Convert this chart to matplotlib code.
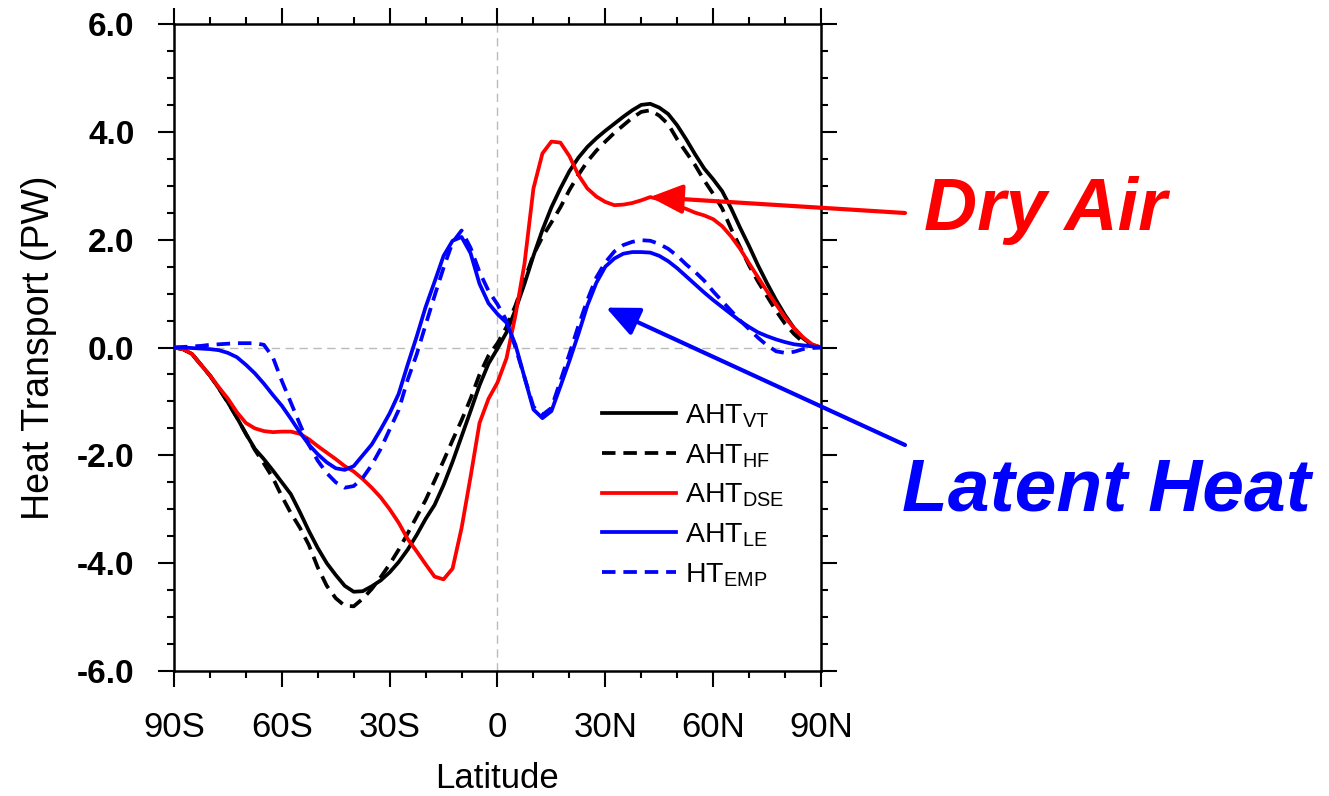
import numpy as np
import matplotlib
matplotlib.use("Agg")
import matplotlib.pyplot as plt
from matplotlib.ticker import MultipleLocator, FixedLocator

plt.rcParams['font.family'] = ['Liberation Sans', 'DejaVu Sans']
plt.rcParams['mathtext.fontset'] = 'custom'
plt.rcParams['mathtext.rm'] = 'Liberation Sans'

# ---------------- data ----------------
lat = np.arange(-90, 90.01, 2.5)

aht_vt = [0, -0.03, -0.12, -0.32, -0.52, -0.76, -1.02, -1.30, -1.60, -1.88,
          -2.07, -2.28, -2.50, -2.72, -3.05, -3.40, -3.72, -4.00, -4.22, -4.42,
          -4.53, -4.52, -4.43, -4.32, -4.17, -3.98, -3.75, -3.48, -3.18, -2.92,
          -2.55, -2.12, -1.65, -1.18, -0.70, -0.30, -0.02, 0.28, 0.70, 1.18,
          1.70, 2.18, 2.60, 2.95, 3.27, 3.52, 3.72, 3.88, 4.02, 4.15,
          4.28, 4.40, 4.50, 4.52, 4.45, 4.33, 4.12, 3.86, 3.58, 3.32,
          3.12, 2.90, 2.58, 2.22, 1.88, 1.52, 1.19, 0.88, 0.60, 0.36,
          0.17, 0.05, 0]

aht_hf = [0, -0.03, -0.12, -0.32, -0.52, -0.76, -1.02, -1.30, -1.60, -1.90,
          -2.15, -2.42, -2.76, -3.07, -3.34, -3.66, -4.08, -4.42, -4.65, -4.79,
          -4.80, -4.66, -4.48, -4.26, -4.02, -3.75, -3.45, -3.14, -2.83, -2.47,
          -2.10, -1.72, -1.35, -0.95, -0.50, -0.15, 0.08, 0.38, 0.78, 1.25,
          1.72, 2.05, 2.32, 2.60, 2.92, 3.20, 3.45, 3.65, 3.82, 3.98,
          4.12, 4.26, 4.37, 4.40, 4.30, 4.14, 3.86, 3.62, 3.38, 3.10,
          2.85, 2.58, 2.20, 1.86, 1.52, 1.22, 0.95, 0.68, 0.44, 0.25,
          0.10, 0.03, 0]

aht_dse = [0, -0.03, -0.12, -0.32, -0.52, -0.74, -0.95, -1.20, -1.40, -1.50,
           -1.55, -1.57, -1.56, -1.56, -1.60, -1.70, -1.83, -1.95, -2.07, -2.20,
           -2.30, -2.44, -2.60, -2.78, -3.00, -3.25, -3.55, -3.78, -4.02, -4.25,
           -4.30, -4.10, -3.35, -2.40, -1.40, -0.95, -0.65, -0.20, 0.60, 1.55,
           2.95, 3.60, 3.82, 3.80, 3.55, 3.20, 2.95, 2.80, 2.70, 2.64,
           2.65, 2.68, 2.73, 2.79, 2.75, 2.69, 2.63, 2.57, 2.50, 2.45,
           2.38, 2.25, 2.06, 1.83, 1.56, 1.30, 1.04, 0.80, 0.56, 0.36,
           0.19, 0.06, 0]

aht_le = [0, 0, -0.01, -0.02, -0.03, -0.05, -0.10, -0.18, -0.32, -0.48,
          -0.67, -0.88, -1.08, -1.32, -1.57, -1.80, -1.98, -2.13, -2.24, -2.27,
          -2.20, -2.00, -1.80, -1.52, -1.22, -0.86, -0.32, 0.20, 0.75, 1.22,
          1.70, 1.98, 2.05, 1.75, 1.18, 0.82, 0.62, 0.46, 0.05, -0.55,
          -1.15, -1.31, -1.18, -0.72, -0.25, 0.25, 0.78, 1.20, 1.50, 1.65,
          1.74, 1.77, 1.77, 1.76, 1.70, 1.60, 1.47, 1.32, 1.17, 1.02,
          0.88, 0.75, 0.62, 0.49, 0.38, 0.28, 0.21, 0.15, 0.10, 0.06,
          0.04, 0.02, 0]

ht_emp = [0, 0.01, 0.02, 0.03, 0.05, 0.06, 0.07, 0.08, 0.08, 0.08,
          0.05, -0.18, -0.62, -1.02, -1.42, -1.80, -2.10, -2.33, -2.50, -2.60,
          -2.57, -2.42, -2.18, -1.88, -1.52, -1.16, -0.60, -0.13, 0.42, 0.96,
          1.48, 1.95, 2.17, 1.85, 1.40, 1.05, 0.80, 0.50, 0.00, -0.55,
          -1.10, -1.25, -1.12, -0.62, -0.12, 0.40, 0.88, 1.30, 1.58, 1.78,
          1.90, 1.96, 1.99, 1.98, 1.92, 1.83, 1.70, 1.54, 1.40, 1.24,
          1.04, 0.86, 0.68, 0.50, 0.34, 0.18, 0.04, -0.07, -0.10, -0.08,
          -0.03, -0.01, 0]

labels = [r'AHT$_\mathregular{VT}$', r'AHT$_\mathregular{HF}$',
          r'AHT$_\mathregular{DSE}$', r'AHT$_\mathregular{LE}$',
          r'HT$_\mathregular{EMP}$']

xticks = [-90, -60, -30, 0, 30, 60, 90]
xticklabels = ['90S', '60S', '30S', '0', '30N', '60N', '90N']
yticks = [-6, -4, -2, 0, 2, 4, 6]

# ---------------- figure ----------------
W, H = 1329, 796
fig = plt.figure(figsize=(W / 100, H / 100), dpi=100)
ax = fig.add_axes([174 / W, 1 - 671 / H, (821 - 174) / W, (671 - 24) / H])

ax.axhline(0, color='#bbbbbb', lw=1.0, ls=(0, (6, 4)), zorder=1)
ax.axvline(0, color='#bbbbbb', lw=1.0, ls=(0, (6, 4)), zorder=1)

lw = 2.7
dash = (0, (3.6, 2.1))
ax.plot(lat, aht_vt, color='black', lw=lw, label=labels[0], zorder=3)
ax.plot(lat, aht_hf, color='black', lw=lw, ls=dash, label=labels[1], zorder=3)
ax.plot(lat, aht_dse, color='#ff0000', lw=lw, label=labels[2], zorder=3)
ax.plot(lat, aht_le, color='#0000ff', lw=lw, label=labels[3], zorder=3)
ax.plot(lat, ht_emp, color='#0000ff', lw=lw, ls=dash, label=labels[4], zorder=3)

ax.set_xlim(-90, 90)
ax.set_ylim(-6, 6)
ax.xaxis.set_major_locator(FixedLocator(xticks))
ax.set_xticklabels(xticklabels)
ax.xaxis.set_minor_locator(MultipleLocator(10))
ax.yaxis.set_major_locator(FixedLocator(yticks))
ax.set_yticklabels(['%.1f' % v for v in yticks], fontweight='bold')
ax.yaxis.set_minor_locator(MultipleLocator(0.5))

ax.tick_params(which='both', direction='out', top=True, right=True,
               width=1.5, color='black')
ax.tick_params(which='major', length=11.5)
ax.tick_params(which='minor', length=5)
ax.tick_params(axis='x', which='major', labelsize=25, pad=17)
ax.tick_params(axis='y', which='major', labelsize=24, pad=17)
for s in ax.spines.values():
    s.set_linewidth(1.8)

ax.set_xlabel('Latitude', fontsize=25, labelpad=13)
ax.set_ylabel('Heat Transport (PW)', fontsize=27, labelpad=14)

leg = ax.legend(loc='upper left', bbox_to_anchor=(602 / W, 1 - 402 / H),
                bbox_transform=fig.transFigure, frameon=False, fontsize=20.5,
                handlelength=2.6, handletextpad=0.3, labelspacing=0.42,
                borderpad=0, borderaxespad=0)

# annotations
ax.annotate('', xy=(42.4, 2.79), xycoords='data',
            xytext=(905, H - 213), textcoords='figure pixels',
            arrowprops=dict(arrowstyle='-|>,head_length=1.0,head_width=0.45',
                            color='#ff0000', lw=3, mutation_scale=20,
                            shrinkA=0, shrinkB=0), annotation_clip=False)
ax.annotate('', xy=(30.2, 0.74), xycoords='data',
            xytext=(905, H - 445), textcoords='figure pixels',
            arrowprops=dict(arrowstyle='-|>,head_length=1.0,head_width=0.45',
                            color='#0000ff', lw=3, mutation_scale=20,
                            shrinkA=0, shrinkB=0), annotation_clip=False)
fig.text(924 / W, 1 - 230 / H, 'Dry Air', color='#ff0000', fontsize=53,
         fontweight='bold', fontstyle='italic', ha='left', va='baseline')
fig.text(902 / W, 1 - 510 / H, 'Latent Heat', color='#0000ff', fontsize=54,
         fontweight='bold', fontstyle='italic', ha='left', va='baseline')

fig.savefig('out.png', dpi=100)
